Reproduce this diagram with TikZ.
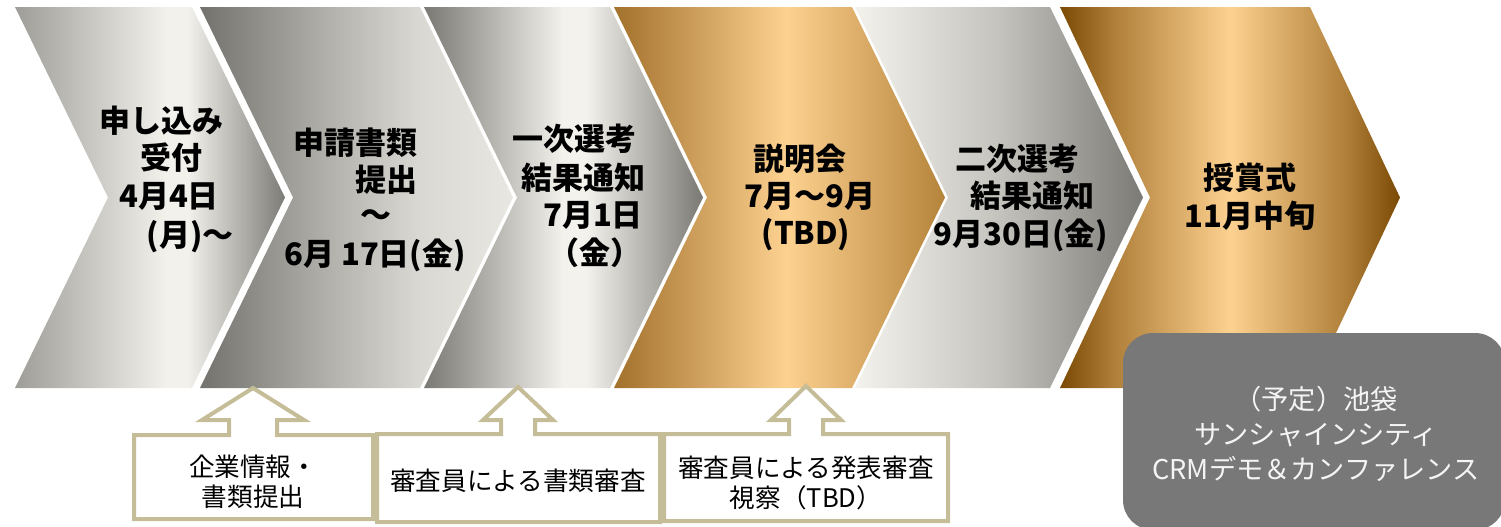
\documentclass[tikz,border=0pt]{standalone}
\usepackage{fontspec}
\newfontfamily\jp{Noto Sans CJK JP}
\definecolor{a1}{HTML}{9E9D97}\definecolor{a2}{HTML}{F2F1EC}\definecolor{a3}{HTML}{7C7B76}
\definecolor{b1}{HTML}{73726D}\definecolor{b2}{HTML}{B0AFA9}\definecolor{b3}{HTML}{D9D8D3}\definecolor{b4}{HTML}{E8E7E2}
\definecolor{c1}{HTML}{7A7974}\definecolor{c2}{HTML}{F3F2ED}\definecolor{c3}{HTML}{7A7974}
\definecolor{d1}{HTML}{A2712C}\definecolor{d2}{HTML}{FDD190}\definecolor{d3}{HTML}{B5843B}
\definecolor{e1}{HTML}{F3F2ED}\definecolor{e2}{HTML}{C4C3BD}\definecolor{e3}{HTML}{7B7A75}
\definecolor{f1}{HTML}{7A4904}\definecolor{f2}{HTML}{B0803A}\definecolor{f3}{HTML}{FDD190}
\definecolor{tan}{HTML}{C5BD98}
\definecolor{boxgray}{HTML}{787878}
\definecolor{boxtext}{HTML}{F4F4F4}
\pgfdeclarehorizontalshading{shA}{100bp}{color(0bp)=(a1); color(25bp)=(a1); color(53bp)=(a2); color(57bp)=(a2); color(75bp)=(a3); color(100bp)=(a3)}
\pgfdeclarehorizontalshading{shB}{100bp}{color(0bp)=(b1); color(25bp)=(b1); color(45bp)=(b2); color(60bp)=(b3); color(75bp)=(b4); color(100bp)=(b4)}
\pgfdeclarehorizontalshading{shC}{100bp}{color(0bp)=(c1); color(25bp)=(c1); color(50bp)=(c2); color(54bp)=(c2); color(75bp)=(c3); color(100bp)=(c3)}
\pgfdeclarehorizontalshading{shD}{100bp}{color(0bp)=(d1); color(25bp)=(d1); color(51bp)=(d2); color(75bp)=(d3); color(100bp)=(d3)}
\pgfdeclarehorizontalshading{shE}{100bp}{color(0bp)=(e1); color(25bp)=(e1); color(50bp)=(e2); color(75bp)=(e3); color(100bp)=(e3)}
\pgfdeclarehorizontalshading{shF}{100bp}{color(0bp)=(f1); color(25bp)=(f1); color(33bp)=(f2); color(50bp)=(f3); color(67bp)=(f2); color(75bp)=(f1); color(100bp)=(f1)}
\tikzset{
  ct/.style={font=\jp\bfseries\fontsize{15.5}{18}\selectfont, inner sep=0pt, text height=0.88em, text depth=0.12em},
  bt/.style={font=\jp\fontsize{12.8}{15}\selectfont, inner sep=0pt, align=center},
  gt/.style={font=\jp\fontsize{13.6}{17.5}\selectfont, inner sep=0pt, align=center, text=boxtext},
  callout/.style={draw=tan, line width=2pt, fill=white, line join=miter},
}
\begin{document}
\begin{tikzpicture}[x=0.5pt,y=-0.5pt]
\useasboundingbox (0,0) rectangle (1501,526);
\clip (0,0) rectangle (1501,526);
% chevrons
\path[shading=shA] (15,7) -- (192,7) -- (285,197.5) -- (192,388) -- (15,388) -- (108,197.5) -- cycle;
\path[shading=shB] (200,7) -- (420,7) -- (513,197.5) -- (420,388) -- (200,388) -- (293,197.5) -- cycle;
\path[shading=shC] (424,7) -- (610,7) -- (703,197.5) -- (610,388) -- (424,388) -- (517,197.5) -- cycle;
\path[shading=shD] (614,7) -- (852,7) -- (945,197.5) -- (852,388) -- (614,388) -- (707,197.5) -- cycle;
\path[shading=shE] (855,7) -- (1050,7) -- (1143,197.5) -- (1050,388) -- (855,388) -- (948,197.5) -- cycle;
\path[shading=shF] (1060,7) -- (1310,7) -- (1400,197.5) -- (1310,388) -- (1060,388) -- (1150,197.5) -- cycle;
% chevron texts
\node[ct] (c1a) at (161,125) {申し込み};
\node[ct] (c1b) at (171,162) {受付};
\node[ct] (c1c) at (169,200) {4月4日};
\node[ct] (c1d) at (190,239) {(月)〜};
\node[ct] (c2a) at (355,147) {申請書類};
\node[ct] (c2b) at (386,184) {提出};
\node[ct] (c2c) at (376,219) {〜};
\node[ct] (c2d) at (375,258) {6月 17日(金)};
\node[ct] (c3a) at (574,143) {一次選考};
\node[ct] (c3b) at (583,182) {結果通知};
\node[ct] (c3c) at (593,219) {7月1日};
\node[ct] (c3d) at (595,257) {（金）};
\node[ct] (c4a) at (800,163) {説明会};
\node[ct] (c4b) at (810,200) {7月〜9月};
\node[ct] (c4c) at (806,237) {(TBD)};
\node[ct] (c5a) at (1017,163) {二次選考};
\node[ct] (c5b) at (1032,200) {結果通知};
\node[ct] (c5c) at (1021,238) {9月30日(金)};
\node[ct] (c6a) at (1250,182) {授賞式};
\node[ct] (c6b) at (1250,220) {11月中旬};
% callout boxes
\path[callout] (134,435) -- (229,435) -- (229,420) -- (202,420) -- (253,388) -- (304,420) -- (277,420) -- (277,435) -- (373,435) -- (373,519) -- (134,519) -- cycle;
\path[callout] (377,434) -- (501,434) -- (501,420) -- (483,420) -- (518,387) -- (553,420) -- (535,420) -- (535,434) -- (660,434) -- (660,522) -- (377,522) -- cycle;
\path[callout] (664,434) -- (789,434) -- (789,420) -- (771,420) -- (806,386) -- (841,420) -- (823,420) -- (823,434) -- (948,434) -- (948,521) -- (664,521) -- cycle;
\node[bt] (b1) at (253,482) {企業情報・\\書類提出};
\node[bt] (b2) at (518,481) {審査員による書類審査};
\node[bt] (b3) at (806,483) {審査員による発表審査\\視察（TBD）};
% grey venue box
\path[fill=boxgray, rounded corners=15pt] (1123,333) rectangle (1505,530);
\node[gt] (g) at (1316,434) {（予定）池袋\\サンシャインシティ\\CRMデモ＆カンファレンス};
\end{tikzpicture}
\end{document}
